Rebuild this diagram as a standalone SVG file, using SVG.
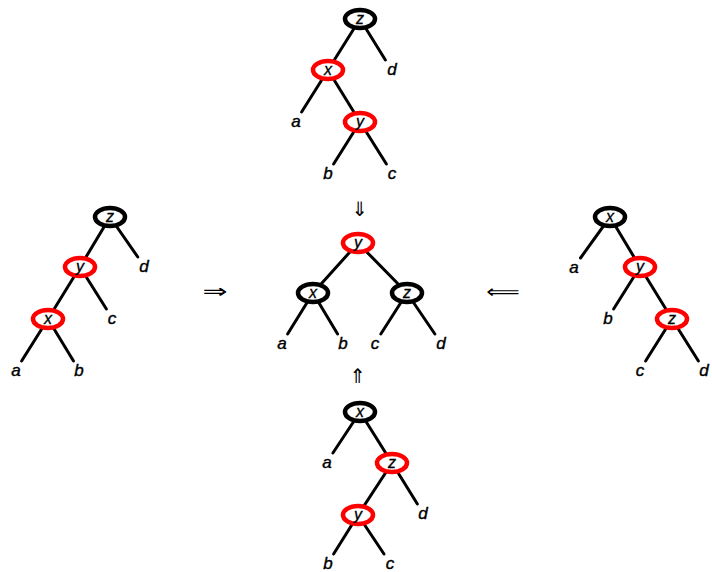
<svg xmlns="http://www.w3.org/2000/svg" width="712" height="572" viewBox="0 0 712 572">
<style>
.e{stroke:#000;stroke-width:3;stroke-linecap:round;fill:none}
.nb{fill:#fff;stroke:#000;stroke-width:4.5}
.nr{fill:#fff;stroke:#f00;stroke-width:4.5}
.t{font-family:"Liberation Sans",Arial,sans-serif;font-style:italic;font-size:17px;text-anchor:middle;fill:#000;stroke:#000;stroke-width:0.4}
.nt{font-family:"Liberation Sans",Arial,sans-serif;font-style:italic;font-size:16px;text-anchor:middle;fill:#000;stroke:#000;stroke-width:0.3}
.ar{font-family:"DejaVu Sans",sans-serif;text-anchor:middle;fill:#000}
</style>
<rect width="712" height="572" fill="#fff"/>
<g id="connectors">
<line class="e" x1="360" y1="19" x2="328" y2="70"/>
<line class="e" x1="360" y1="19" x2="385.4" y2="60"/>
<line class="e" x1="328" y1="70" x2="301.6" y2="112"/>
<line class="e" x1="328" y1="70" x2="360" y2="122"/>
<line class="e" x1="360" y1="122" x2="333.6" y2="164"/>
<line class="e" x1="360" y1="122" x2="386.4" y2="164"/>
<line class="e" x1="110" y1="217" x2="80" y2="267"/>
<line class="e" x1="110" y1="217" x2="137.8" y2="257"/>
<line class="e" x1="80" y1="267" x2="48" y2="319"/>
<line class="e" x1="80" y1="267" x2="106.4" y2="309"/>
<line class="e" x1="48" y1="319" x2="21.6" y2="361"/>
<line class="e" x1="48" y1="319" x2="73.5" y2="361"/>
<line class="e" x1="358" y1="243" x2="313" y2="293"/>
<line class="e" x1="358" y1="243" x2="407" y2="293"/>
<line class="e" x1="313" y1="293" x2="287.6" y2="334"/>
<line class="e" x1="313" y1="293" x2="337.6" y2="334"/>
<line class="e" x1="407" y1="293" x2="380.8" y2="334"/>
<line class="e" x1="407" y1="293" x2="434.9" y2="334"/>
<line class="e" x1="610" y1="217" x2="580.5" y2="258"/>
<line class="e" x1="610" y1="217" x2="640" y2="267"/>
<line class="e" x1="640" y1="267" x2="613.6" y2="309"/>
<line class="e" x1="640" y1="267" x2="672" y2="319"/>
<line class="e" x1="672" y1="319" x2="645.6" y2="361"/>
<line class="e" x1="672" y1="319" x2="698.4" y2="361"/>
<line class="e" x1="360" y1="412" x2="332.9" y2="453"/>
<line class="e" x1="360" y1="412" x2="392" y2="463"/>
<line class="e" x1="392" y1="463" x2="358" y2="515"/>
<line class="e" x1="392" y1="463" x2="417.4" y2="504"/>
<line class="e" x1="358" y1="515" x2="333.6" y2="554"/>
<line class="e" x1="358" y1="515" x2="384" y2="554"/>
</g>
<g id="top-z"><ellipse class="nb" cx="360" cy="19" rx="15" ry="9"/><text class="nt" x="360" y="24">z</text></g>
<g id="top-x"><ellipse class="nr" cx="328" cy="70" rx="15" ry="9"/><text class="nt" x="328" y="75">x</text></g>
<g id="top-y"><ellipse class="nr" cx="360" cy="122" rx="15" ry="9"/><text class="nt" x="360" y="127">y</text></g>
<g id="top-d"><text class="t" x="392" y="75">d</text></g>
<g id="top-a"><text class="t" x="296" y="127">a</text></g>
<g id="top-b"><text class="t" x="328" y="179">b</text></g>
<g id="top-c"><text class="t" x="392" y="179">c</text></g>
<g id="left-z"><ellipse class="nb" cx="110" cy="217" rx="15" ry="9"/><text class="nt" x="110" y="222">z</text></g>
<g id="left-y"><ellipse class="nr" cx="80" cy="267" rx="15" ry="9"/><text class="nt" x="80" y="272">y</text></g>
<g id="left-x"><ellipse class="nr" cx="48" cy="319" rx="15" ry="9"/><text class="nt" x="48" y="324">x</text></g>
<g id="left-d"><text class="t" x="144" y="272">d</text></g>
<g id="left-c"><text class="t" x="112" y="324">c</text></g>
<g id="left-a"><text class="t" x="16" y="376">a</text></g>
<g id="left-b"><text class="t" x="79" y="376">b</text></g>
<g id="center-y"><ellipse class="nr" cx="358" cy="243" rx="15" ry="9"/><text class="nt" x="358" y="248">y</text></g>
<g id="center-x"><ellipse class="nb" cx="313" cy="293" rx="15" ry="9"/><text class="nt" x="313" y="298">x</text></g>
<g id="center-z"><ellipse class="nb" cx="407" cy="293" rx="15" ry="9"/><text class="nt" x="407" y="298">z</text></g>
<g id="center-a"><text class="t" x="282" y="349">a</text></g>
<g id="center-b"><text class="t" x="343" y="349">b</text></g>
<g id="center-c"><text class="t" x="375" y="349">c</text></g>
<g id="center-d"><text class="t" x="441" y="349">d</text></g>
<g id="right-x"><ellipse class="nb" cx="610" cy="217" rx="15" ry="9"/><text class="nt" x="610" y="222">x</text></g>
<g id="right-y"><ellipse class="nr" cx="640" cy="267" rx="15" ry="9"/><text class="nt" x="640" y="272">y</text></g>
<g id="right-z"><ellipse class="nr" cx="672" cy="319" rx="15" ry="9"/><text class="nt" x="672" y="324">z</text></g>
<g id="right-a"><text class="t" x="574" y="273">a</text></g>
<g id="right-b"><text class="t" x="608" y="324">b</text></g>
<g id="right-c"><text class="t" x="640" y="376">c</text></g>
<g id="right-d"><text class="t" x="704" y="376">d</text></g>
<g id="bottom-x"><ellipse class="nb" cx="360" cy="412" rx="15" ry="9"/><text class="nt" x="360" y="417">x</text></g>
<g id="bottom-z"><ellipse class="nr" cx="392" cy="463" rx="15" ry="9"/><text class="nt" x="392" y="468">z</text></g>
<g id="bottom-y"><ellipse class="nr" cx="358" cy="515" rx="15" ry="9"/><text class="nt" x="358" y="520">y</text></g>
<g id="bottom-a"><text class="t" x="327" y="468">a</text></g>
<g id="bottom-d"><text class="t" x="423" y="519">d</text></g>
<g id="bottom-b"><text class="t" x="328" y="569">b</text></g>
<g id="bottom-c"><text class="t" x="390" y="569">c</text></g>
<g id="arrow-down"><text class="ar" x="360" y="216" font-size="20">⇓</text></g>
<g id="arrow-up"><text class="ar" x="358" y="383" font-size="20">⇑</text></g>
<g id="arrow-right"><text class="ar" font-size="20" transform="translate(215,298) scale(1.5,1)">⇒</text></g>
<g id="arrow-left"><text class="ar" font-size="18" transform="translate(503,298) scale(1.3,1)">⟸</text></g>
</svg>
